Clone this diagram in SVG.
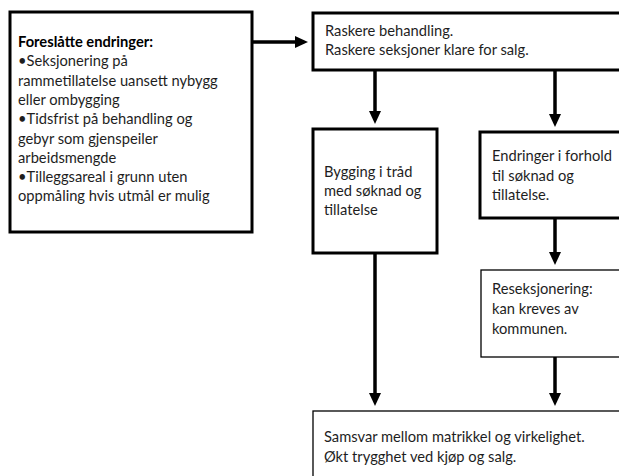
<svg xmlns="http://www.w3.org/2000/svg" width="619" height="476" viewBox="0 0 619 476">
<defs>
<marker id="ah" markerUnits="userSpaceOnUse" markerWidth="13" markerHeight="12" viewBox="0 0 13 12" refX="6" refY="6" orient="auto">
<path d="M0,0 L13,6 L0,12 z" fill="#000"/>
</marker>
<style>
.box{fill:#fff;stroke:#000}
.thick{stroke-width:3}
.thin{stroke-width:1.3}
.t{font-family:Lato,"Open Sans","Liberation Sans",sans-serif;font-size:14.7px;fill:#1e1e1e}
.b{font-weight:bold;fill:#000}
.c{fill:none;stroke:#000;stroke-width:3.5}
</style>
</defs>
<rect width="619" height="476" fill="#fff"/>
<g id="connectors">
<line class="c" x1="252" y1="42" x2="301" y2="42" marker-end="url(#ah)"/>
<line class="c" x1="375" y1="70" x2="375" y2="117" marker-end="url(#ah)"/>
<line class="c" x1="555" y1="70" x2="555" y2="120" marker-end="url(#ah)"/>
<line class="c" x1="555" y1="218" x2="555" y2="258" marker-end="url(#ah)"/>
<line class="c" x1="375" y1="253" x2="375" y2="399" marker-end="url(#ah)"/>
<line class="c" x1="555" y1="357" x2="555" y2="399" marker-end="url(#ah)"/>
</g>
<g id="left">
<rect class="box thick" x="10" y="12" width="242" height="220"/>
<text class="t" x="18"><tspan class="b" x="18" y="47">Foreslåtte endringer:</tspan><tspan x="18" y="66.3">•Seksjonering på</tspan><tspan x="18" y="85.6">rammetillatelse uansett nybygg</tspan><tspan x="18" y="104.9">eller ombygging</tspan><tspan x="18" y="124.2">•Tidsfrist på behandling og</tspan><tspan x="18" y="143.5">gebyr som gjenspeiler</tspan><tspan x="18" y="162.8">arbeidsmengde</tspan><tspan x="18" y="182.1">•Tilleggsareal i grunn uten</tspan><tspan x="18" y="201.4">oppmåling hvis utmål er mulig</tspan></text>
</g>
<g id="top">
<rect class="box thick" x="313" y="13" width="312" height="57"/>
<text class="t"><tspan x="325" y="36">Raskere behandling.</tspan><tspan x="325" y="55">Raskere seksjoner klare for salg.</tspan></text>
</g>
<g id="bygging">
<rect class="box thick" x="313" y="129" width="124" height="124"/>
<text class="t"><tspan x="324" y="177">Bygging i tråd</tspan><tspan x="324" y="196">med søknad og</tspan><tspan x="324" y="215">tillatelse</tspan></text>
</g>
<g id="endringer">
<rect class="box thick" x="480" y="132" width="145" height="86"/>
<text class="t"><tspan x="492" y="161">Endringer i forhold</tspan><tspan x="492" y="181">til søknad og</tspan><tspan x="492" y="200">tillatelse.</tspan></text>
</g>
<g id="reseksjonering">
<rect class="box thin" x="481" y="270" width="144" height="87"/>
<text class="t"><tspan x="492" y="294">Reseksjonering:</tspan><tspan x="492" y="314">kan kreves av</tspan><tspan x="492" y="334">kommunen.</tspan></text>
</g>
<g id="bottom">
<rect class="box thin" x="313" y="411" width="312" height="70"/>
<text class="t"><tspan x="324" y="442">Samsvar mellom matrikkel og virkelighet.</tspan><tspan x="324" y="462">Økt trygghet ved kjøp og salg.</tspan></text>
</g>
</svg>
